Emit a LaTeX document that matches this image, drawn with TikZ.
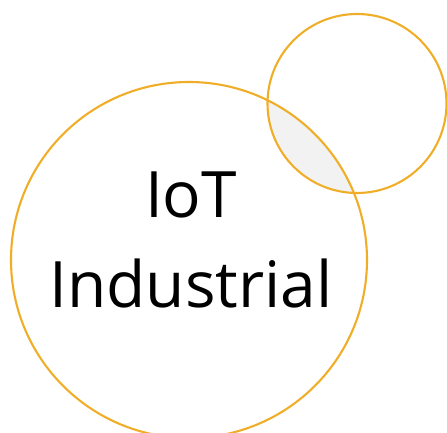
\documentclass[tikz,border=0pt]{standalone}
\usepackage{fontspec}
\setmainfont{Open Sans}
\usepackage{xcolor}
\usetikzlibrary{positioning}
\definecolor{ringgold}{HTML}{F0AE28}
\definecolor{lensgray}{HTML}{F2F2F2}
\tikzset{ring/.style={circle, draw=ringgold, line width=2.1pt, inner sep=0pt, outer sep=0pt}}

\begin{document}
\begin{tikzpicture}[x=1pt, y=1pt, every node/.style={inner sep=0pt}]
% Bounding box (picture size)
\useasboundingbox (0,0) rectangle (447,432);
% Overlap of the two circles
\begin{scope}
\clip (189,172) circle (178);
\fill[lensgray] (357,328.5) circle (89.5);
\end{scope}
% Circles
\node[ring, minimum size=356pt] (iot) at (189,172) {};
\node[ring, minimum size=179pt] (small) at (357,328.5) {};
% Label
\node[anchor=base, font=\fontsize{64}{77}\selectfont] (iotword) at (191,215) {IoT};
\node[anchor=base, font=\fontsize{64}{77}\selectfont] (indword) at (191,125) {Industrial};
\end{tikzpicture}
\end{document}
